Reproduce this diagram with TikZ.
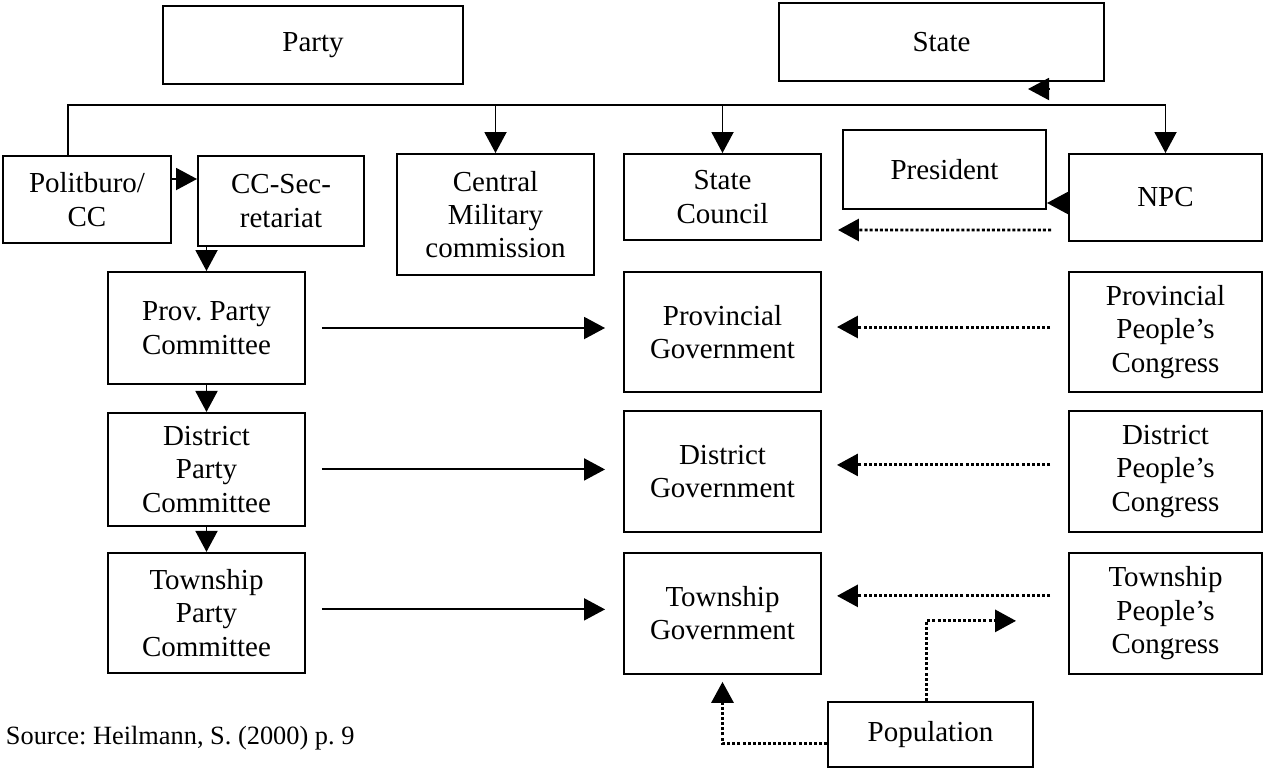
\documentclass[tikz,border=0pt]{standalone}
\usepackage{fontspec}
\setmainfont{Liberation Serif}
\frenchspacing
\usetikzlibrary{arrows.meta, positioning}
\def\Wbox{3.94cm}
\def\Wpc{3.86cm}
\def\Hrow{2.4cm}
\def\distP{0.54cm}
\def\distG{0.34cm}
\tikzstyle{every node} = [font=\fontsize{16.5}{19}\selectfont]
\tikzstyle{every path} = [line width=1.1pt]
\tikzstyle{arrow}    = [-{Triangle[length=0.42cm,width=0.44cm]}]
\tikzstyle{dotarrow} = [arrow, line width=1.7pt, dash pattern=on 1.7pt off 1.2pt]
\tikzstyle{box}      = [rectangle, draw=black, align=center, inner sep=0pt, minimum width=\Wbox]

\begin{document}
\begin{tikzpicture}
\useasboundingbox (0,0) rectangle (25.28,-15.38);
% Objects
    % Top
    \node (party)     [box, minimum width=6cm,   minimum height=1.56cm] at (6.26,-0.90)  {Party};
    \node (state)     [box, minimum width=6.5cm, minimum height=1.56cm] at (18.83,-0.84) {State};
    % Central level
    \node (politburo) [box, minimum width=3.36cm, minimum height=1.74cm] at (1.74,-3.99)  {Politburo/\\CC};
    \node (ccsec)     [box, minimum width=3.32cm, minimum height=1.80cm] at (5.62,-4.02)  {CC-Sec-\\retariat};
    \node (cmc)       [box, minimum height=2.42cm]                       at (9.91,-4.29)  {Central\\Military\\commission};
    \node (council)   [box, minimum height=1.72cm]                       at (14.45,-3.94) {State\\Council};
    \node (president) [box, minimum width=4.06cm, minimum height=1.58cm] at (18.89,-3.39) {President};
    \node (npc)       [box, minimum width=\Wpc,   minimum height=1.74cm] at (23.31,-3.95) {NPC};
    % Party column
    \node (provparty) [box, minimum height=2.24cm] at (4.13,-6.56)          {Prov. Party\\Committee};
    \node (distparty) [box, minimum height=2.26cm, below=\distP of provparty] {District\\Party\\Committee};
    \node (townparty) [box, minimum height=2.4cm,  below=0.5cm of distparty]  {Township\\Party\\Committee};
    % Government column
    \node (provgov)   [box, minimum height=\Hrow]   at (14.45,-6.64)         {Provincial\\Government};
    \node (distgov)   [box, minimum height=2.42cm, below=\distG of provgov]  {District\\Government};
    \node (towngov)   [box, minimum height=2.42cm, below=0.38cm of distgov]  {Township\\Government};
    % Congress column
    \node (provpc)    [box, minimum width=\Wpc, minimum height=\Hrow]   at (23.31,-6.64)        {Provincial\\People’s\\Congress};
    \node (distpc)    [box, minimum width=\Wpc, minimum height=2.42cm, below=\distG of provpc] {District\\People’s\\Congress};
    \node (townpc)    [box, minimum width=\Wpc, minimum height=2.42cm, below=0.38cm of distpc] {Township\\People’s\\Congress};
    % Bottom
    \node (population) [box, minimum width=4.10cm, minimum height=1.30cm] at (18.61,-14.69) {Population};
    \node (source) [anchor=west, inner sep=0pt, font=\fontsize{15}{18}\selectfont] at (0.1,-14.76) {Source: Heilmann, S. (2000) p. 9};

% Arrows
    % Bus under Party and State
    \coordinate (busL) at (1.36,-2.10);
    \draw (busL |- politburo.north) -- (busL) -- (busL -| npc.north);
    \draw [arrow] (busL -| cmc.north)     -- (cmc.north);
    \draw [arrow] (busL -| council.north) -- (council.north);
    \draw [arrow] (busL -| npc.north)     -- (npc.north);
    % Tip under State
    \coordinate (stubA) at (20.98,-1.78);
    \coordinate (stubB) at (20.56,-1.78);
    \draw [arrow] (stubA) -- (stubB);
    % Party side
    \draw [arrow] ([yshift=0.41cm]politburo.east) -- ([yshift=0.41cm]politburo.east -| ccsec.west);
    \draw [arrow] (ccsec.south -| provparty.north) -- (provparty.north);
    \draw [arrow] (provparty.south) -- (distparty.north);
    \draw [arrow] (distparty.south) -- (townparty.north);
    % Party to government
    \draw [arrow] ([xshift=0.32cm]provparty.east) -- ([xshift=-0.36cm]provparty.east -| provgov.west);
    \draw [arrow] ([xshift=0.32cm]distparty.east) -- ([xshift=-0.36cm]distparty.east -| distgov.west);
    \draw [arrow] ([xshift=0.32cm,yshift=0.07cm]townparty.east) -- ([xshift=-0.36cm,yshift=0.07cm]townparty.east -| towngov.west);
    % Congress to government
    \draw [arrow] ([yshift=-0.67cm]president.east -| npc.west) -- ([yshift=-0.67cm]president.east);
    \draw [dotarrow] ([xshift=-0.34cm,yshift=-0.65cm]npc.west) -- ([xshift=0.32cm,yshift=-0.66cm]council.east);
    \draw [dotarrow] ([xshift=-0.36cm,yshift=0.10cm]provpc.west) -- ([xshift=0.30cm,yshift=0.10cm]provgov.east);
    \draw [dotarrow] ([xshift=-0.36cm,yshift=0.13cm]distpc.west) -- ([xshift=0.30cm,yshift=0.13cm]distgov.east);
    \draw [dotarrow] ([xshift=-0.36cm,yshift=0.35cm]townpc.west) -- ([xshift=0.30cm,yshift=0.35cm]towngov.east);
    % Population
    \draw [dotarrow] ([yshift=-0.17cm]population.west) -| ([yshift=-0.14cm]towngov.south);
    \draw [dotarrow] ([xshift=-0.09cm]population.north) |- ([xshift=-1.04cm,yshift=-0.15cm]townpc.west);
\end{tikzpicture}
\end{document}
